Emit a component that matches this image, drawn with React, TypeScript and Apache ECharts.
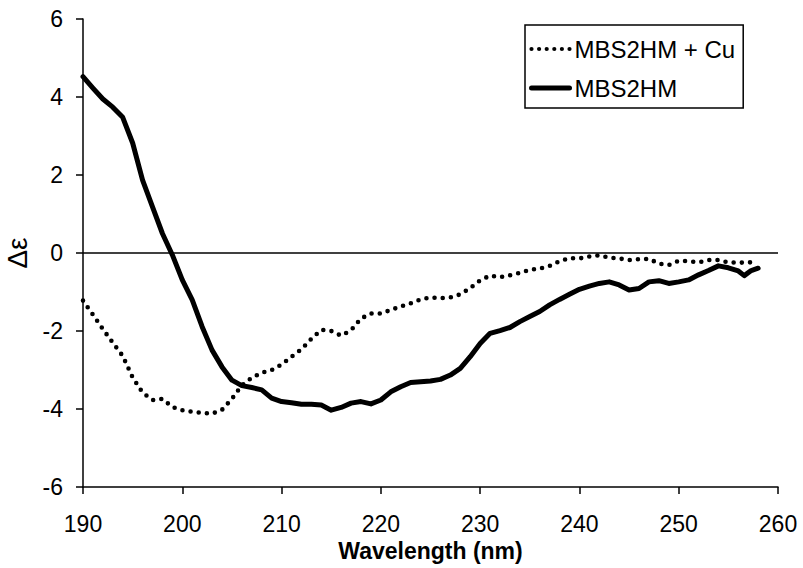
import React, { useEffect, useRef } from "react";
import * as echarts from "echarts";

const seriesNames = ["MBS2HM + Cu", "MBS2HM"];

// MBS2HM + Cu (dotted)
const cuWavelength = [
  190, 190.6, 191, 192, 193, 194, 195, 196, 197, 198, 199, 200, 201, 202, 203, 204, 205, 206, 207, 208, 209,
  210, 211, 212, 213, 214, 215, 216, 217, 218, 219, 220, 221, 222, 223, 224, 225, 226, 227, 228, 229,
  230, 231, 232, 233, 234, 235, 236, 237, 238, 239, 240, 241, 242, 243, 244, 245, 246, 247, 248, 249,
  250, 251, 252, 253, 254, 255, 256, 257, 258,
];
const cuValues = [
  -1.22, -1.44, -1.58, -1.95, -2.3, -2.64, -3.19, -3.58, -3.77, -3.74, -3.95, -4.03, -4.07, -4.1, -4.12, -4.02, -3.74, -3.39, -3.2, -3.07, -3.0,
  -2.86, -2.66, -2.47, -2.2, -1.97, -2.0, -2.12, -1.98, -1.68, -1.55, -1.55, -1.46, -1.37, -1.29, -1.19, -1.14, -1.16, -1.14, -1.06, -0.9,
  -0.7, -0.58, -0.62, -0.57, -0.51, -0.43, -0.4, -0.33, -0.21, -0.13, -0.14, -0.09, -0.06, -0.12, -0.14, -0.18, -0.16, -0.15, -0.27, -0.31,
  -0.2, -0.21, -0.24, -0.18, -0.18, -0.24, -0.25, -0.24, -0.24,
];

// MBS2HM (solid)
const apoWavelength = [
  190, 191, 192, 193, 194, 195, 196, 197, 198, 199, 200, 201, 202, 203, 204, 205, 206, 207, 208, 209,
  210, 211, 212, 213, 214, 215, 216, 217, 218, 219, 220, 221, 222, 223, 224, 225, 226, 227, 228, 229,
  230, 231, 232, 233, 234, 235, 236, 237, 238, 239, 240, 241, 242, 243, 244, 245, 246, 247, 248, 249,
  250, 251, 252, 253, 254, 255, 256, 256.6, 257.3, 258,
];
const apoValues = [
  4.52, 4.23, 3.95, 3.74, 3.48, 2.82, 1.87, 1.18, 0.5, -0.05, -0.69, -1.2, -1.89, -2.49, -2.92, -3.26, -3.4, -3.45, -3.51, -3.72,
  -3.81, -3.84, -3.88, -3.88, -3.9, -4.03, -3.96, -3.85, -3.81, -3.87, -3.77, -3.56, -3.43, -3.32, -3.3, -3.28, -3.24, -3.13, -2.96, -2.66,
  -2.32, -2.06, -1.99, -1.91, -1.76, -1.63, -1.5, -1.33, -1.19, -1.06, -0.93, -0.85, -0.78, -0.74, -0.82, -0.95, -0.91, -0.74, -0.71, -0.78,
  -0.74, -0.69, -0.56, -0.45, -0.33, -0.38, -0.46, -0.58, -0.45, -0.39,
];

const xTicks = { min: 190, max: 260, interval: 10 };
const yTicks = { min: -6, max: 6, interval: 2 };

const FONT = "'Liberation Sans', Arial, sans-serif";

const dottedStyle = { color: "#000", width: 4.6, type: [0, 8.2], cap: "round" };
const solidStyle = { color: "#000", width: 5, type: "solid", cap: "round", join: "round" };

export default function App() {
  const ref = useRef<HTMLDivElement>(null);
  useEffect(() => {
    if (!ref.current) return;
    const chart = echarts.init(ref.current, null, { renderer: "svg" });
    const cuData = cuWavelength.map((w, i) => [w, cuValues[i]]);
    const apoData = apoWavelength.map((w, i) => [w, apoValues[i]]);
    chart.setOption({
      animation: false,
      backgroundColor: "#ffffff",
      textStyle: { fontFamily: FONT, color: "#000" },
      grid: { left: 83, right: 25, top: 19, bottom: 81, containLabel: false, outerBoundsMode: "none" },
      legend: {
        data: [
          { name: seriesNames[0], lineStyle: { ...dottedStyle, width: 4.2, type: [0, 7.6] } },
          { name: seriesNames[1], lineStyle: { ...solidStyle } },
        ],
        orient: "vertical",
        left: 525,
        top: 25,
        padding: [12, 8, 8, 4],
        itemGap: 15,
        itemWidth: 38,
        itemHeight: 14,
        borderColor: "#000",
        borderWidth: 1.5,
        backgroundColor: "#fff",
        textStyle: { fontFamily: FONT, fontSize: 24, color: "#000" },
        itemStyle: { color: "rgba(0,0,0,0)", borderWidth: 0, opacity: 0 },
      },
      xAxis: {
        type: "value",
        min: xTicks.min,
        max: xTicks.max,
        interval: xTicks.interval,
        name: "Wavelength (nm)",
        nameLocation: "middle",
        nameGap: 51,
        nameTextStyle: { fontFamily: FONT, fontSize: 23, fontWeight: "bold", color: "#000" },
        axisLine: { onZero: false, lineStyle: { color: "#000", width: 1.5 } },
        axisTick: { show: true, length: 7, inside: false, lineStyle: { color: "#000", width: 1.5 } },
        axisLabel: { fontFamily: FONT, fontSize: 23, color: "#000", margin: 25, showMinLabel: true, showMaxLabel: true },
        splitLine: { show: false },
      },
      yAxis: {
        type: "value",
        min: yTicks.min,
        max: yTicks.max,
        interval: yTicks.interval,
        name: "Δε",
        nameLocation: "middle",
        nameGap: 48,
        nameTextStyle: { fontFamily: FONT, fontSize: 28, color: "#000" },
        axisLine: { show: true, onZero: false, lineStyle: { color: "#000", width: 1.5 } },
        axisTick: { show: true, length: 7, inside: false, lineStyle: { color: "#000", width: 1.5 } },
        axisLabel: { fontFamily: FONT, fontSize: 23, color: "#000", margin: 20 },
        splitLine: { show: false },
      },
      series: [
        {
          name: seriesNames[0],
          type: "line",
          data: cuData,
          symbol: "none",
          showSymbol: false,
          itemStyle: { color: "rgba(0,0,0,0)" },
          lineStyle: dottedStyle,
          markLine: {
            silent: true,
            symbol: "none",
            label: { show: false },
            lineStyle: { color: "#000", width: 1.5, type: "solid" },
            data: [{ yAxis: 0 }],
          },
          z: 2,
        },
        {
          name: seriesNames[1],
          type: "line",
          data: apoData,
          symbol: "none",
          showSymbol: false,
          itemStyle: { color: "rgba(0,0,0,0)" },
          lineStyle: solidStyle,
          z: 3,
        },
      ],
    });
    return () => chart.dispose();
  }, []);
  return <div ref={ref} style={{ width: 803, height: 568, position: "absolute", left: 0, top: 0 }} />;
}
